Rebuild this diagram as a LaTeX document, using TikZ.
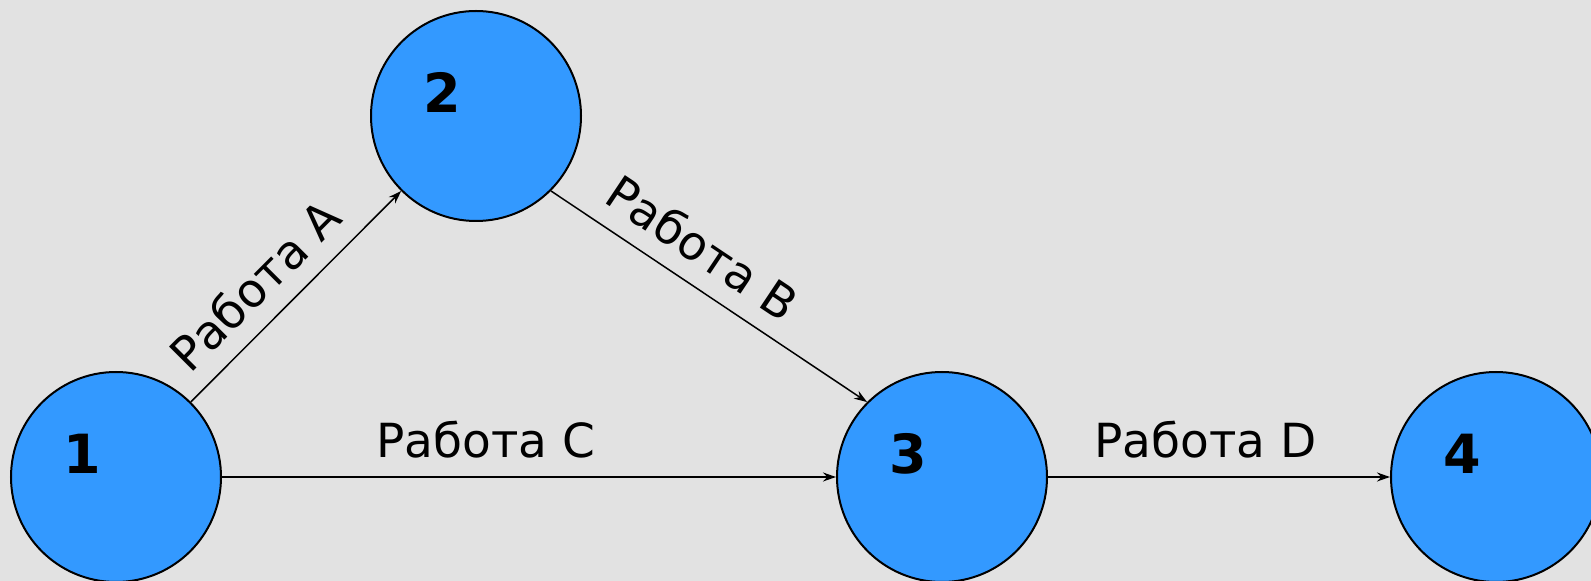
\documentclass[tikz,border=0pt]{standalone}
\usepackage{fontspec}
\setmainfont{DejaVu Sans}
\usetikzlibrary{arrows.meta}
\definecolor{nodeblue}{RGB}{51,153,255}
\definecolor{bggray}{RGB}{226,226,226}
\tikzset{
  event/.style={circle,draw=black,line width=2pt,fill=nodeblue,minimum size=210pt,inner sep=0pt},
  num/.style={font=\fontsize{54}{60}\selectfont\bfseries,inner sep=0pt},
  work/.style={line width=1.5pt,-{Stealth[length=13pt,width=9pt]}},
  wlabel/.style={font=\fontsize{47}{56}\selectfont,inner sep=0pt,sloped,above=18pt}
}
\begin{document}
\begin{tikzpicture}[x=1pt,y=1pt]
\useasboundingbox (0,0) rectangle (1591,581);
\clip (0,0) rectangle (1591,581);
\fill[bggray] (0,0) rectangle (1591,581);
\node[event,label={[num,xshift=-33.5pt,yshift=23.5pt]center:1}] (n1) at (116,104) {};
\node[event,label={[num,xshift=-33.5pt,yshift=23.5pt]center:2}] (n2) at (476,465) {};
\node[event,label={[num,xshift=-33.5pt,yshift=23.5pt]center:3}] (n3) at (942,104) {};
\node[event,label={[num,xshift=-33.5pt,yshift=23.5pt]center:4}] (n4) at (1496,104) {};
\draw[work] (n1) -- node[wlabel,pos=0.43] {Работа A} (n2);
\draw[work] (n2.-45) -- node[wlabel,pos=0.415] {Работа B} (n3.135);
\draw[work] (n1) -- node[wlabel,pos=0.43] {Работа C} (n3);
\draw[work] (n3) -- node[wlabel,pos=0.46] {Работа D} (n4);
\end{tikzpicture}
\end{document}
